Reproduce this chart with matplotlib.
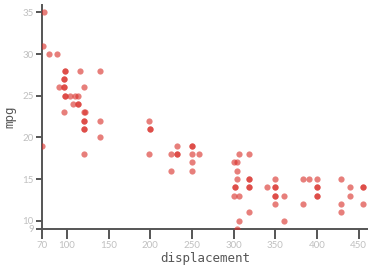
import matplotlib
matplotlib.use("Agg")
import matplotlib.pyplot as plt

# cars: displacement vs mpg (overlapping points repeated)
displacement = [72, 71, 79, 88, 98, 98, 116, 140, 97, 97,
                91, 97, 97, 121, 98, 98, 104, 110, 113,
                107, 113, 113, 97, 120, 122, 121, 121, 140, 121, 121, 140, 70, 121,
                198, 200, 200, 199, 225, 232, 232, 232, 225,
                250, 250, 250, 250, 250, 258,
                301, 304, 307, 318, 304, 304, 302, 302, 301, 307,
                318, 318, 318, 318, 318, 307, 304,
                340, 350, 350, 350, 350, 350, 350, 360, 360,
                383, 390, 383, 400, 400, 400, 400, 400,
                429, 429, 429, 440, 440, 455, 455, 455]
mpg = [35, 31, 30, 30, 28, 28, 28, 28, 27, 27,
       26, 26, 26, 26, 25, 25, 25, 25, 25,
       24, 24, 24, 23, 23, 23, 22, 22, 22, 21, 21, 20, 19, 18,
       22, 21, 21, 18, 18, 18, 18, 19, 16,
       19, 19, 18, 17, 16, 18,
       17, 17, 18, 18, 16, 15, 14, 14, 13, 13,
       15, 15, 14, 14, 11, 10, 9,
       14, 15, 14, 14, 13, 13, 12, 13, 10,
       15, 15, 12, 15, 14, 14, 13, 13,
       15, 12, 11, 14, 13, 14, 14, 12]

xticks = [70, 100, 150, 200, 250, 300, 350, 400, 450]
yticks = [9, 10, 15, 20, 25, 30, 35]

fig = plt.figure(figsize=(3.68, 2.66), dpi=100)
ax = fig.add_axes([0.1141, 0.1391, 0.8853, 0.8421])

ax.scatter(displacement, mpg, s=20, color="#d9302b", alpha=0.62, linewidths=0, zorder=3)

ax.set_xlim(70, 461)
ax.set_ylim(9, 35.9)
ax.set_xticks(xticks)
ax.set_yticks(yticks)

for s in ["top", "right"]:
    ax.spines[s].set_visible(False)
for s in ["left", "bottom"]:
    ax.spines[s].set_color("#555555")
    ax.spines[s].set_linewidth(1.4)

ax.tick_params(axis="x", length=7, width=1.4, color="#555555", labelcolor="#c0c0c0",
               labelsize=7, pad=2)
ax.tick_params(axis="y", length=4, width=1.4, color="#555555", labelcolor="#c0c0c0",
               labelsize=7, pad=2)
for lab in ax.get_xticklabels() + ax.get_yticklabels():
    lab.set_fontfamily("Lato")

ax.set_xlabel("displacement", fontfamily="DejaVu Sans Mono", fontsize=9, color="#555555", labelpad=1)
ax.set_ylabel("mpg", fontfamily="DejaVu Sans Mono", fontsize=9, color="#555555", labelpad=4)

fig.savefig("out.png", dpi=100)
